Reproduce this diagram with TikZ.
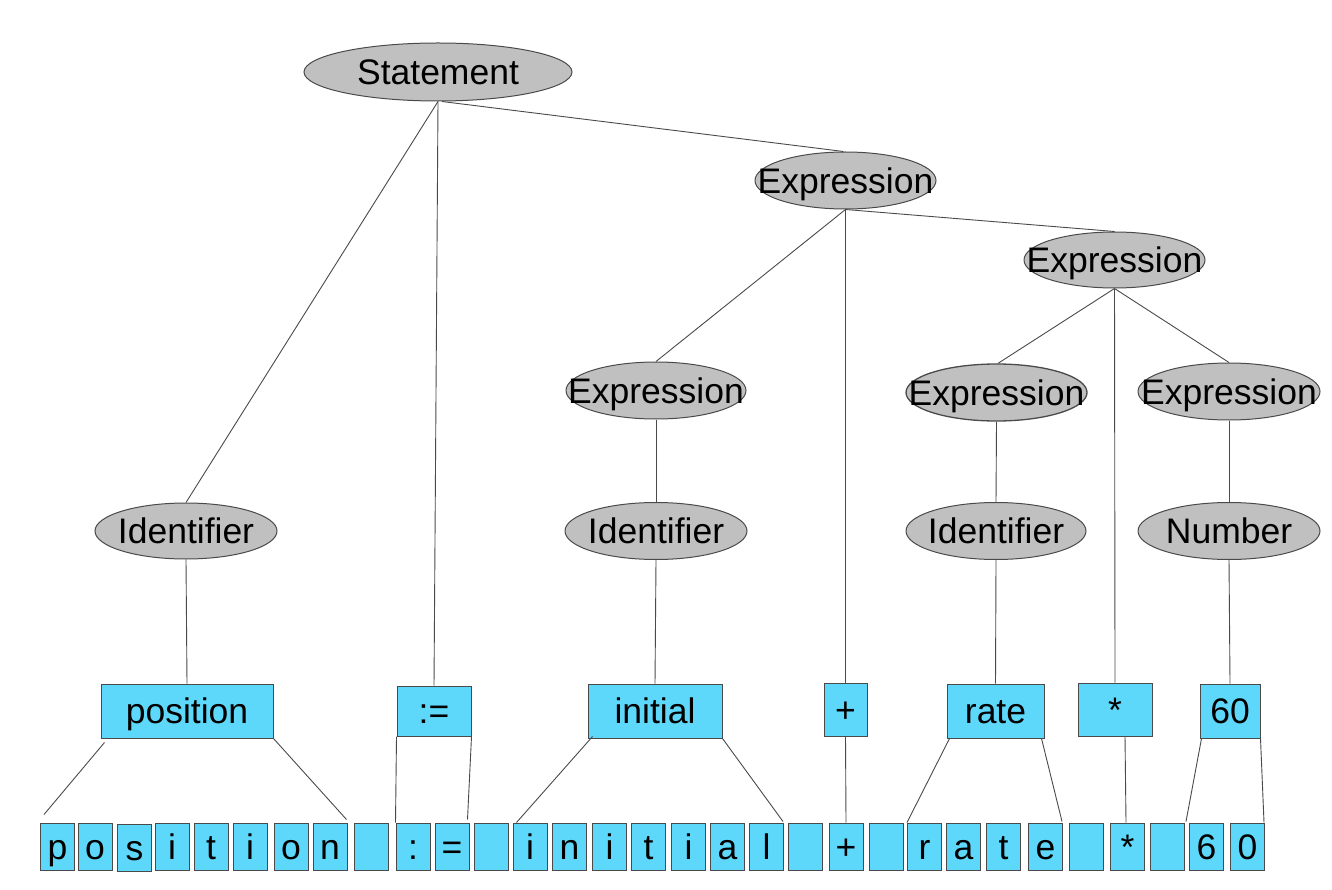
\documentclass[tikz,border=0pt]{standalone}
\usepackage{fontspec}
\setmainfont{Liberation Sans}
\usetikzlibrary{shapes.geometric}
\definecolor{boxcyan}{HTML}{5ED8FA}
\definecolor{ellgray}{HTML}{C0C0C0}
\definecolor{edgegray}{HTML}{4A4A4A}
\tikzset{
  txt/.style={font=\fontsize{35.5}{42}\selectfont, text height=25.5pt, text depth=0pt, inner sep=0pt},
  ell/.style={ellipse, draw=edgegray, fill=ellgray, line width=1pt, inner sep=0pt,
              minimum width=181pt, minimum height=57pt},
  tokbox/.style={rectangle, draw=edgegray, fill=boxcyan, line width=1pt, txt},
  chr/.style={tokbox, minimum width=34pt, minimum height=47pt},
  conn/.style={draw=edgegray, line width=0.9pt}
}
\begin{document}
\begin{tikzpicture}[x=1pt,y=-1pt]
\useasboundingbox (0,0) rectangle (1332,890);

% ellipses
\node[ell, minimum width=268pt, minimum height=58pt, label={[txt]center:Statement}] (stmt) at (438,72) {};
\node[ell, label={[txt]center:Expression}] (exprA) at (845.5,180.5) {};
\node[ell, minimum height=56pt, label={[txt]center:Expression}] (exprB) at (1114.5,260) {};
\node[ell, minimum width=180pt, label={[txt]center:Expression}] (exprL) at (656,390.5) {};
\node[ell, line width=1.3pt, label={[txt]center:Expression}] (exprR) at (996.5,392.5) {};
\node[ell, minimum width=182pt, label={[txt]center:Expression}] (exprN) at (1229,391.5) {};
\node[ell, minimum width=182pt, minimum height=56pt, label={[txt]center:Identifier}] (idL) at (186,531) {};
\node[ell, minimum width=182pt, label={[txt]center:Identifier}] (idM) at (656,531) {};
\node[ell, minimum width=180pt, label={[txt]center:Identifier}] (idR) at (996,531) {};
\node[ell, minimum width=182pt, label={[txt]center:Number}] (num) at (1229,531) {};

% middle token boxes
\node[tokbox, minimum width=172pt, minimum height=54pt] (position) at (187,711) {position};
\node[tokbox, minimum width=74pt, minimum height=50pt] (assign) at (434,711) {:=};
\node[tokbox, minimum width=43pt, minimum height=53pt] (plus) at (845.5,709.5) {+};
\node[tokbox, minimum width=134pt, minimum height=54pt] (initial) at (655,711) {initial};
\node[tokbox, minimum width=97pt, minimum height=54pt] (rate) at (995.5,711) {rate};
\node[tokbox, minimum width=74pt, minimum height=53pt] (star) at (1115,709.5) {*};
\node[tokbox, minimum width=60pt, minimum height=54pt] (sixty) at (1230,711) {60};

% bottom character boxes
\foreach \i/\x/\c in {1/57.5/p,2/95/o,4/172/i,5/211/t,6/250/i,7/291/o,8/330/n,9/371/{},
  10/413/:,11/452/=,12/491/{},13/530/i,14/569.5/n,15/609.5/i,16/648.5/t,17/688.5/i,
  18/727.5/a,19/766.5/l,20/805.5/{},21/846/+,22/886/{},23/924.5/r,24/963.5/a,25/1003.5/t,
  26/1045.5/e,27/1086.5/{},28/1127.5/*,29/1167.5/{},30/1206.5/6,31/1247.5/0}
  {\node[chr] (c\i) at (\x,846.5) {\c};}
\node[chr] (c3) at (134.5,847.5) {s};

% tree connectors
\draw[conn] (stmt.south) -- (idL.north);
\draw[conn] (stmt.south) -- (assign.north);
\draw[conn] ([shift={(4,0)}]stmt.south) -- ([shift={(-2,0)}]exprA.north);
\draw[conn] (exprA.south) -- (exprL.north);
\draw[conn] (exprA.south) -- (plus.north);
\draw[conn] (exprA.south) -- (exprB.north);
\draw[conn] (exprB.south) -- ([shift={(1.5,0)}]exprR.north);
\draw[conn] (exprB.south) -- (star.north);
\draw[conn] (exprB.south) -- (exprN.north);
\draw[conn] (idL.south) -- (position.north);
\draw[conn] (exprL.south) -- (idM.north);
\draw[conn] (idM.south) -- (initial.north);
\draw[conn] (exprR.south) -- (idR.north);
\draw[conn] (idR.south) -- (rate.north);
\draw[conn] (exprN.south) -- (num.north);
\draw[conn] (num.south) -- (sixty.north);

% token to character connectors
\draw[conn] ([shift={(4,4)}]position.south west) -- ([shift={(4,-8)}]c1.north west);
\draw[conn] (position.south east) -- ([shift={(-1,-3)}]c8.north east);
\draw[conn] (assign.south west) -- (c10.north west);
\draw[conn] (assign.south east) -- ([shift={(-2,-3)}]c11.north east);
\draw[conn] ([shift={(5,-2)}]initial.south west) -- ([shift={(4,0)}]c13.north west);
\draw[conn] (initial.south east) -- ([shift={(-1,-1)}]c19.north east);
\draw[conn] (plus.south) -- (c21.north);
\draw[conn] ([shift={(3,0)}]rate.south west) -- (c23.north west);
\draw[conn] ([shift={(-3,0)}]rate.south east) -- ([shift={(-1,-1)}]c26.north east);
\draw[conn] ([shift={(10,0)}]star.south) -- ([shift={(-1.5,0)}]c28.north);
\draw[conn] ([shift={(2,0)}]sixty.south west) -- ([shift={(-3,-1)}]c30.north west);
\draw[conn] (sixty.south east) -- ([shift={(-1,0)}]c31.north east);
\end{tikzpicture}
\end{document}
